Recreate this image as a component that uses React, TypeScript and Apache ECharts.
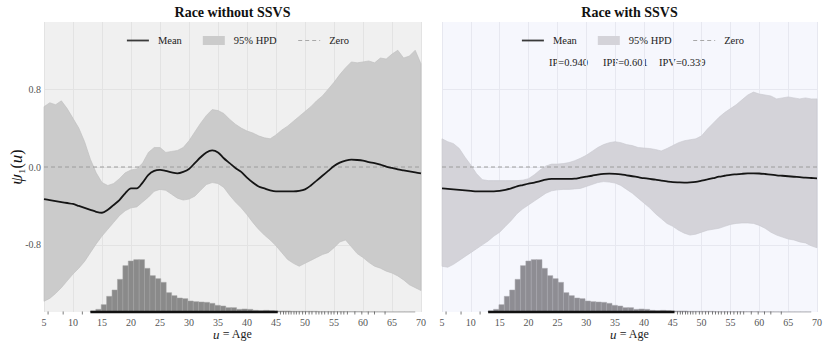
import React, { useEffect, useRef } from 'react';
import * as echarts from 'echarts';

// ---------------- data ----------------
const ages = [5, 6, 7, 8, 9, 10, 11, 12, 13, 14, 15, 16, 17, 18, 19, 20, 21, 22, 23, 24, 25, 26, 27, 28, 29, 30, 31, 32, 33, 34, 35, 36, 37, 38, 39, 40, 41, 42, 43, 44, 45, 46, 47, 48, 49, 50, 51, 52, 53, 54, 55, 56, 57, 58, 59, 60, 61, 62, 63, 64, 65, 66, 67, 68, 69, 70];

// Race without SSVS
const leftMean = [-0.33, -0.34, -0.35, -0.36, -0.37, -0.38, -0.4, -0.42, -0.44, -0.46, -0.47, -0.44, -0.39, -0.34, -0.27, -0.22, -0.22, -0.16, -0.08, -0.04, -0.03, -0.04, -0.055, -0.065, -0.05, -0.02, 0.04, 0.1, 0.15, 0.17, 0.15, 0.09, 0.04, -0.01, -0.05, -0.11, -0.16, -0.2, -0.22, -0.24, -0.25, -0.25, -0.25, -0.25, -0.245, -0.23, -0.19, -0.14, -0.09, -0.04, 0.01, 0.045, 0.065, 0.075, 0.072, 0.065, 0.05, 0.04, 0.025, 0.005, -0.01, -0.025, -0.035, -0.045, -0.055, -0.065];
const leftUpper = [0.62, 0.66, 0.64, 0.68, 0.6, 0.5, 0.4, 0.26, 0.08, -0.06, -0.16, -0.19, -0.17, -0.12, -0.06, -0.03, -0.02, 0.04, 0.15, 0.2, 0.2, 0.15, 0.16, 0.17, 0.2, 0.27, 0.36, 0.45, 0.53, 0.59, 0.58, 0.55, 0.49, 0.44, 0.4, 0.37, 0.35, 0.32, 0.3, 0.29, 0.33, 0.38, 0.42, 0.47, 0.52, 0.57, 0.62, 0.68, 0.73, 0.8, 0.87, 0.95, 1.02, 1.08, 1.07, 1.08, 1.09, 1.07, 1.12, 1.11, 1.16, 1.2, 1.12, 1.14, 1.2, 1.06];
const leftLower = [-1.38, -1.35, -1.3, -1.24, -1.17, -1.1, -1.04, -0.97, -0.88, -0.79, -0.71, -0.64, -0.57, -0.5, -0.45, -0.42, -0.41, -0.36, -0.31, -0.25, -0.23, -0.24, -0.28, -0.32, -0.34, -0.33, -0.3, -0.24, -0.18, -0.16, -0.17, -0.21, -0.29, -0.36, -0.42, -0.49, -0.57, -0.64, -0.7, -0.75, -0.81, -0.88, -0.95, -0.99, -1.02, -0.99, -0.96, -0.93, -0.9, -0.88, -0.83, -0.77, -0.75, -0.82, -0.89, -0.93, -0.98, -1.02, -1.04, -1.07, -1.09, -1.12, -1.16, -1.21, -1.24, -1.27];

// Race with SSVS
const rightMean = [-0.22, -0.225, -0.23, -0.235, -0.24, -0.245, -0.25, -0.25, -0.25, -0.25, -0.245, -0.235, -0.22, -0.2, -0.185, -0.17, -0.16, -0.145, -0.13, -0.123, -0.122, -0.122, -0.123, -0.12, -0.11, -0.1, -0.09, -0.078, -0.07, -0.068, -0.07, -0.075, -0.085, -0.095, -0.105, -0.115, -0.123, -0.13, -0.14, -0.148, -0.155, -0.158, -0.16, -0.158, -0.152, -0.14, -0.128, -0.115, -0.1, -0.09, -0.08, -0.075, -0.07, -0.066, -0.065, -0.067, -0.072, -0.078, -0.085, -0.09, -0.095, -0.1, -0.105, -0.11, -0.113, -0.116];
const rightUpper = [0.29, 0.26, 0.24, 0.19, 0.1, 0.02, -0.07, -0.13, -0.14, -0.14, -0.14, -0.14, -0.14, -0.14, -0.135, -0.12, -0.08, -0.03, 0.01, 0.03, 0.03, 0.035, 0.045, 0.065, 0.09, 0.12, 0.16, 0.2, 0.23, 0.25, 0.26, 0.25, 0.23, 0.22, 0.2, 0.195, 0.19, 0.18, 0.165, 0.19, 0.22, 0.25, 0.27, 0.28, 0.29, 0.32, 0.39, 0.45, 0.51, 0.56, 0.6, 0.64, 0.69, 0.74, 0.77, 0.75, 0.74, 0.73, 0.7, 0.71, 0.72, 0.71, 0.7, 0.71, 0.7, 0.7];
const rightLower = [-1.02, -1.03, -1.0, -0.96, -0.92, -0.88, -0.84, -0.8, -0.76, -0.71, -0.67, -0.61, -0.55, -0.48, -0.43, -0.39, -0.35, -0.31, -0.27, -0.245, -0.235, -0.23, -0.23, -0.225, -0.22, -0.2, -0.18, -0.16, -0.15, -0.155, -0.165, -0.19, -0.23, -0.27, -0.32, -0.37, -0.42, -0.48, -0.53, -0.58, -0.61, -0.65, -0.68, -0.7, -0.69, -0.67, -0.65, -0.64, -0.63, -0.61, -0.59, -0.58, -0.575, -0.575, -0.58, -0.6, -0.63, -0.67, -0.7, -0.72, -0.74, -0.75, -0.77, -0.78, -0.81, -0.83];

// Age histogram (60 bins starting at age 13)
const histStart = 13;
const histBinWidth = 0.9333;
const histCounts = [3, 8, 22, 47, 66, 98, 139, 153, 157, 157, 131, 109, 100, 89, 58, 49, 42, 40, 33, 31, 30, 29, 26, 20, 18, 13, 13, 8, 9, 8, 5, 4, 5, 4, 3, 3, 3, 2, 2, 2, 2, 2, 1, 1, 1, 1, 1, 1, 1, 1, 0.5, 0.5, 0.5, 0.5, 0.3, 0.3, 0.3, 0.3, 0.3, 0.3];
const histMax = 870;

// Rug of observed ages
const rugDense = [13, 45.3];
const rugTicks = [5.7, 8.3, 11.6, 45.8, 46.3, 46.7, 47.2, 47.6, 48.1, 48.5, 49.0, 49.6, 50.1, 50.7, 51.2, 51.9, 52.4, 52.9, 53.4, 54.0, 54.5, 55.0, 55.6, 56.2, 56.7, 57.3, 58.6, 59.8, 60.9, 62.0, 63.8];

const yTicks = [-0.8, 0, 0.8];
const titles = ['Race without SSVS', 'Race with SSVS'];
const ipTexts = ['IP=0.940', 'IPF=0.601', 'IPV=0.339'];

// ---------------- styling ----------------
const Y_MIN = -1.49;
const Y_MAX = 1.49;
const X_MIN = 5;
const X_MAX = 70;
const SERIF = 'Liberation Serif, Times New Roman, DejaVu Serif, serif';

const panels = [
  { left: 44, right: 409, bg: '#f0f0f0', grid: '#e3e3e3', band: '#cbcbcb', bandEdge: '#bdbdbd', bar: '#8a8a8a', barEdge: '#a2a2a2', center: 232.5, legendLeft: 121 },
  { left: 442, right: 13, bg: '#f6f7fd', grid: '#e7e8f0', band: '#d4d3d9', bandEdge: '#c8c7ce', bar: '#8e8d93', barEdge: '#a7a6ac', center: 629.5, legendLeft: 516 },
];
const panelData = [
  { mean: leftMean, hi: leftUpper, lo: leftLower },
  { mean: rightMean, hi: rightUpper, lo: rightLower },
];

function buildOption() {
  const grid = panels.map((p) => ({
    left: p.left, right: p.right, top: 22, bottom: 36,
    show: true, backgroundColor: p.bg, borderWidth: 0,
  }));

  const xAxis = panels.map((p, i) => ({
    type: 'value', gridIndex: i, min: X_MIN, max: X_MAX, interval: 5,
    axisLine: { show: false }, axisTick: { show: false },
    axisLabel: { fontSize: 10, fontFamily: SERIF, color: '#555', margin: 5 },
    splitLine: { show: true, lineStyle: { color: p.grid, width: 1 } },
  }));

  const yAxis: any[] = panels.map((p, i) => ({
    type: 'value', gridIndex: i, min: Y_MIN, max: Y_MAX,
    axisLine: { show: false },
    axisTick: { show: false, customValues: yTicks },
    axisLabel: {
      show: i === 0, customValues: yTicks, formatter: (v: number) => v.toFixed(1),
      fontSize: 10, fontFamily: SERIF, color: '#555', margin: 3,
    },
    splitLine: { show: true, lineStyle: { color: p.grid, width: 1 } },
  }));
  panels.forEach((p, i) => {
    yAxis.push({ type: 'value', gridIndex: i, min: 0, max: histMax, show: false, splitLine: { show: false } });
  });

  const series: any[] = [];
  panels.forEach((p, i) => {
    const d = panelData[i];
    // HPD band as a polygon through the axis scales
    series.push({
      type: 'custom', name: '95% HPD', xAxisIndex: i, yAxisIndex: i, z: 1, silent: true,
      data: ages.map((a, k) => [a, d.lo[k], d.hi[k]]),
      encode: { x: 0, y: [1, 2] },
      renderItem: (params: any, api: any) => {
        if (params.dataIndex !== 0) return null;
        const upper = ages.map((a, k) => api.coord([a, d.hi[k]]));
        const lower = ages.map((a, k) => api.coord([a, d.lo[k]])).reverse();
        return {
          type: 'polygon',
          shape: { points: upper.concat(lower) },
          style: { fill: p.band, stroke: p.bandEdge, lineWidth: 0.6 },
        };
      },
    });
    // histogram of ages
    series.push({
      type: 'custom', name: 'hist' + i, xAxisIndex: i, yAxisIndex: 2 + i, z: 2, silent: true,
      data: histCounts.map((c, k) => [histStart + k * histBinWidth, histStart + (k + 1) * histBinWidth, c]),
      encode: { x: [0, 1], y: 2 },
      renderItem: (params: any, api: any) => {
        const p0 = api.coord([api.value(0), 0]);
        const p1 = api.coord([api.value(1), api.value(2)]);
        return {
          type: 'rect',
          shape: { x: p0[0], y: p1[1], width: p1[0] - p0[0], height: p0[1] - p1[1] },
          style: { fill: p.bar, stroke: p.barEdge, lineWidth: 0.5 },
        };
      },
    });
    // zero line
    series.push({
      type: 'line', name: 'Zero', xAxisIndex: i, yAxisIndex: i, z: 3, silent: true,
      data: [[X_MIN, 0], [X_MAX, 0]], symbol: 'none',
      lineStyle: { color: '#9c9c9c', width: 1, type: [4, 3] },
      itemStyle: { color: '#9c9c9c' },
    });
    // posterior mean
    series.push({
      type: 'line', name: 'Mean', xAxisIndex: i, yAxisIndex: i, z: 4, silent: true,
      data: ages.map((a, k) => [a, d.mean[k]]), symbol: 'none', smooth: 0.3,
      lineStyle: { color: '#151515', width: 1.8 },
      itemStyle: { color: '#3a3a3a' },
    });
    // rug: dense part
    series.push({
      type: 'line', name: 'rugDense' + i, xAxisIndex: i, yAxisIndex: i, z: 5, silent: true, clip: false,
      data: rugDense.map((a) => [a, Y_MIN]), symbol: 'none',
      lineStyle: { color: '#111', width: 2.6 },
    });
    // rug: sparse ticks
    series.push({
      type: 'scatter', name: 'rug' + i, xAxisIndex: i, yAxisIndex: i, z: 5, silent: true, clip: false,
      data: rugTicks.map((a) => [a, Y_MIN]), symbol: 'rect', symbolSize: [0.8, 3], symbolOffset: [0, 1],
      itemStyle: { color: '#333' },
    });
  });

  const legend = panels.map((p) => ({
    left: p.legendLeft, top: 30, orient: 'horizontal',
    itemWidth: 22, itemHeight: 9, itemGap: 21, selectedMode: false,
    textStyle: { fontFamily: SERIF, fontSize: 10.5, color: '#222', padding: [0, 0, 0, 4] },
    data: [
      { name: 'Mean', itemStyle: { opacity: 0 }, lineStyle: { color: '#3a3a3a', width: 1.8 } },
      { name: '95% HPD', icon: 'rect', itemStyle: { color: p.band, borderWidth: 0 } },
      { name: 'Zero', itemStyle: { opacity: 0 }, lineStyle: { color: '#a8a8a8', width: 1, type: [4, 3] } },
    ],
  }));

  const graphic: any[] = [];
  panels.forEach((p, i) => {
    graphic.push({
      type: 'text', x: p.center, y: 12.5,
      style: { text: titles[i], fontFamily: SERIF, fontWeight: 'bold', fontSize: 14, fill: '#111', align: 'center', verticalAlign: 'middle' },
    });
    graphic.push({
      type: 'text', x: p.center, y: 334,
      style: {
        text: '{i|u} = Age', fontFamily: SERIF, fontSize: 12, fill: '#222', align: 'center', verticalAlign: 'middle',
        rich: { i: { fontFamily: SERIF, fontStyle: 'italic', fontSize: 13, fill: '#222' } },
      },
    });
  });
  const ipX = [549, 603, 659];
  ipTexts.forEach((t, k) => {
    graphic.push({
      type: 'text', x: ipX[k], y: 62,
      style: { text: t, fontFamily: SERIF, fontSize: 10.5, fill: '#222', align: 'left', verticalAlign: 'middle' },
    });
  });
  graphic.push({
    type: 'text', x: 16, y: 167, rotation: Math.PI / 2,
    style: {
      text: '{a|ψ}{c|₁(}{a|u}{c|)}', align: 'center', verticalAlign: 'middle',
      rich: {
        a: { fontFamily: SERIF, fontStyle: 'italic', fontSize: 17, fill: '#111' },
        c: { fontFamily: SERIF, fontSize: 16, fill: '#111' },
      },
    },
  });

  return { animation: false, backgroundColor: '#ffffff', grid, xAxis, yAxis, series, legend, graphic };
}

export default function App() {
  const ref = useRef<HTMLDivElement>(null);
  useEffect(() => {
    document.body.style.margin = '0';
    if (!ref.current) return;
    const chart = echarts.init(ref.current, undefined, { renderer: 'svg' });
    chart.setOption(buildOption() as any);
    return () => chart.dispose();
  }, []);
  return <div ref={ref} style={{ width: 830, height: 348 }} />;
}
